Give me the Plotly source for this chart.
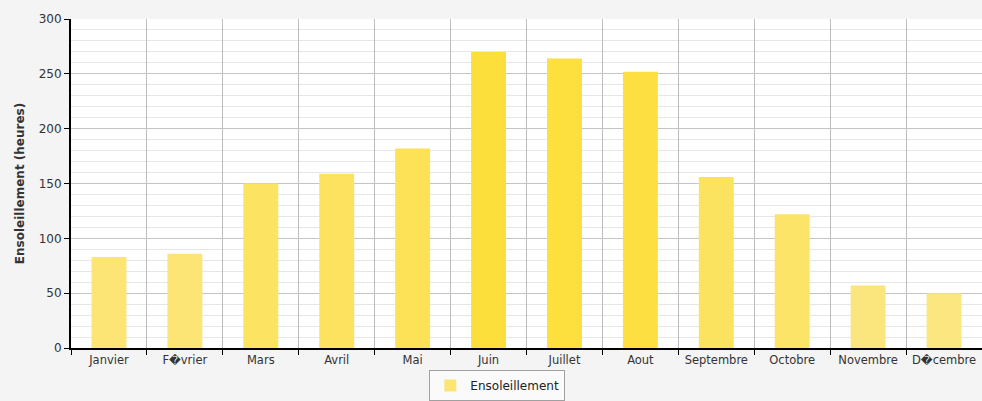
import plotly.graph_objects as go

months = ["Janvier", "F\ufffdvrier", "Mars", "Avril", "Mai", "Juin", "Juillet",
          "Aout", "Septembre", "Octobre", "Novembre", "D\ufffdcembre"]
sunshine = [83, 86, 150, 159, 182, 270, 264, 252, 156, 122, 57, 50]
series_name = "Ensoleillement"
y_ticks = [0, 50, 100, 150, 200, 250, 300]

pale = (251, 232, 143)
deep = (255, 216, 0)


def mix(t):
    c = [round(p + (d - p) * t) for p, d in zip(pale, deep)]
    return "rgb(%d,%d,%d)" % tuple(c)


colors = [mix(v / 600 * 1.3) for v in sunshine]

fig = go.Figure()
fig.add_trace(go.Bar(
    x=months, y=sunshine, name=series_name,
    marker=dict(color=colors, line=dict(width=0)),
    width=0.46, showlegend=True,
))

fig.update_layout(
    width=982, height=401,
    margin=dict(l=71, r=0, t=19, b=53),
    paper_bgcolor="#F4F4F4",
    plot_bgcolor="#FFFFFF",
    font=dict(family="DejaVu Sans", size=11, color="#333333"),
    showlegend=True,
    legend=dict(
        x=0.468, xanchor="center", y=-0.068, yanchor="top",
        bgcolor="#FAFAFA", bordercolor="#A0A0A0", borderwidth=1,
        font=dict(size=12, color="#222222"),
        itemsizing="constant",
    ),
    bargap=0.54,
)
fig.update_xaxes(
    type="category", tickson="boundaries",
    showline=True, linecolor="#000000", linewidth=2,
    ticks="outside", ticklen=5, tickcolor="#000000",
    showgrid=True, gridcolor="#BDBDBD", gridwidth=1,
    tickfont=dict(size=11.5, color="#333333"),
    automargin=False,
)
fig.update_yaxes(
    range=[0, 300], tickvals=y_ticks,
    showline=True, linecolor="#000000", linewidth=2,
    ticks="outside", ticklen=5, tickcolor="#000000",
    showgrid=True, gridcolor="#C4C4C4", gridwidth=1,
    minor=dict(dtick=10, showgrid=True, gridcolor="#E6E6E6", gridwidth=1),
    zeroline=False,
    title=dict(text="<b>Ensoleillement (heures)</b>", font=dict(size=12, color="#333333"), standoff=11),
    tickfont=dict(size=12, color="#333333"),
    automargin=False,
)

fig.write_html(
    "out.html",
    config={"displayModeBar": False},
    post_script="document.body.style.margin='0';document.body.style.overflow='hidden';"
                "document.body.style.background='#F4F4F4';",
)
